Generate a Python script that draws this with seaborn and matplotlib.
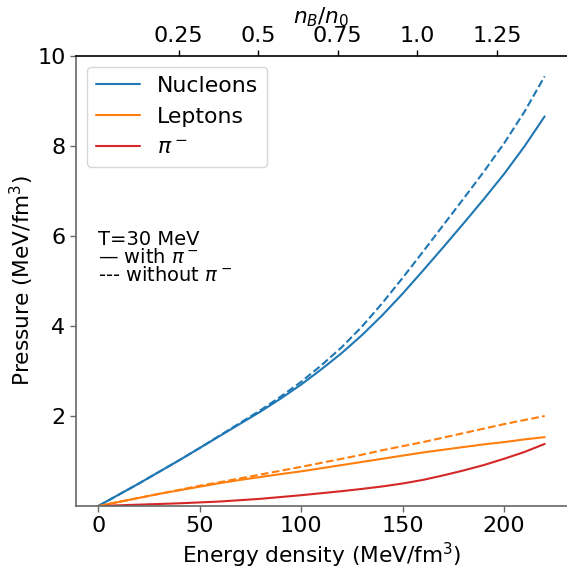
import numpy as np
import pandas as pd
import matplotlib
matplotlib.use('Agg')
import matplotlib.pyplot as plt
import seaborn as sns

# ============================================================
# Data
# ============================================================
energy = [0, 10, 20, 30, 40, 50, 60, 70, 80, 90, 100, 110,
          120, 130, 140, 150, 160, 170, 180, 190, 200, 210, 220]

nucleons_with_pi = [0.0, 0.25, 0.50, 0.76, 1.02, 1.29, 1.56, 1.83, 2.10, 2.39, 2.70, 3.04,
                    3.40, 3.80, 4.24, 4.72, 5.23, 5.75, 6.28, 6.82, 7.38, 7.99, 8.66]
nucleons_without_pi = [0.0, 0.25, 0.50, 0.76, 1.02, 1.29, 1.57, 1.85, 2.13, 2.435, 2.76, 3.13,
                       3.53, 3.99, 4.51, 5.07, 5.65, 6.24, 6.83, 7.43, 8.06, 8.76, 9.55]

leptons_with_pi = [0.0, 0.09, 0.18, 0.27, 0.35, 0.43, 0.51, 0.58, 0.645, 0.71, 0.77, 0.84,
                   0.91, 0.98, 1.05, 1.12, 1.19, 1.25, 1.31, 1.37, 1.42, 1.48, 1.53]
leptons_without_pi = [0.0, 0.09, 0.18, 0.27, 0.36, 0.45, 0.53, 0.615, 0.70, 0.785, 0.87, 0.96,
                      1.05, 1.14, 1.24, 1.33, 1.42, 1.52, 1.62, 1.72, 1.82, 1.91, 2.00]

pion = [0.0, 0.015, 0.03, 0.045, 0.06, 0.08, 0.10, 0.13, 0.16, 0.20, 0.24, 0.285,
        0.33, 0.38, 0.435, 0.50, 0.58, 0.68, 0.79, 0.91, 1.05, 1.20, 1.38]

# top axis: n_B/n_0 ticks and their energy-density positions
nb_labels = ['0.25', '0.5', '0.75', '1.0', '1.25']
nb_tick_energy = [39.6, 78.9, 117.9, 157.2, 196.5]

# ============================================================
# Plot
# ============================================================
sns.set_theme(style='white')
plt.rcParams['font.family'] = ['DejaVu Sans']
plt.rcParams['mathtext.fontset'] = 'dejavusans'
plt.rcParams['text.color'] = 'black'
plt.rcParams['axes.labelcolor'] = 'black'
plt.rcParams['xtick.color'] = 'black'
plt.rcParams['ytick.color'] = 'black'

fig = plt.figure(figsize=(5.67, 5.66), dpi=100)
ax = fig.add_axes([0.134, 0.106, 0.866, 0.795])

blue = '#1f77b4'
orange = '#ff7f0e'
red = '#d62728'

sns.lineplot(x=energy, y=nucleons_with_pi, ax=ax, color=blue, lw=1.5, label='Nucleons')
sns.lineplot(x=energy, y=leptons_with_pi, ax=ax, color=orange, lw=1.5, label='Leptons')
sns.lineplot(x=energy, y=pion, ax=ax, color=red, lw=1.5, label=r'$\pi^-$')
sns.lineplot(x=energy, y=nucleons_without_pi, ax=ax, color=blue, lw=1.5, ls='--')
sns.lineplot(x=energy, y=leptons_without_pi, ax=ax, color=orange, lw=1.5, ls='--')

ax.set_xlim(-11, 231)
ax.set_ylim(0, 10)
ax.set_yticks([2, 4, 6, 8, 10])
ax.set_xticks([0, 50, 100, 150, 200])
ax.tick_params(axis='both', labelsize=16, length=4, width=1, color='0.4',
               labelcolor='black', bottom=True, left=True)
ax.set_xlabel('Energy density (MeV/fm$^3$)', fontsize=15.6, labelpad=3)
ax.set_ylabel('Pressure (MeV/fm$^3$)', fontsize=15.6, labelpad=1)

for side in ['left', 'bottom']:
    ax.spines[side].set_color('0.4')
    ax.spines[side].set_linewidth(1.2)
ax.spines['right'].set_visible(False)
ax.spines['top'].set_visible(False)

leg = ax.legend(loc='upper left', fontsize=15.8, frameon=True, handlelength=2.0,
                borderaxespad=0.5)
for t in leg.get_texts():
    t.set_color('black')

ax.text(0, 5, 'T=30 MeV\n— with $\\pi^-$\n--- without $\\pi^-$',
        fontsize=14, linespacing=0.95, color='black')

# top axis with n_B/n_0
ax2 = ax.twiny()
ax2.set_xlim(ax.get_xlim())
ax2.set_xticks(nb_tick_energy)
ax2.set_xticklabels(nb_labels)
ax2.tick_params(axis='x', labelsize=16, length=4, width=1, color='black',
                labelcolor='black', top=True)
ax2.set_xlabel('$n_B/n_0$', fontsize=15.6, labelpad=1.5)
ax2.spines['top'].set_color('black')
ax2.spines['top'].set_linewidth(1.2)
for side in ['left', 'right', 'bottom']:
    ax2.spines[side].set_visible(False)

fig.savefig('out.png', dpi=100)
